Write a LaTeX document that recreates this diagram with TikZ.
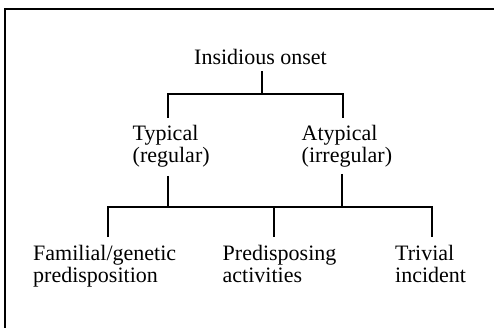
\documentclass[tikz,border=0pt]{standalone}
\usepackage{fontspec}
\setmainfont{Liberation Serif}
\begin{document}
\begin{tikzpicture}[x=1pt,y=-1pt,
  label/.style={font=\fontsize{22}{22.5}\selectfont, inner sep=0pt, align=left, anchor=base west},
  link/.style={line width=2pt},
  frame/.style={line width=2pt}]
\useasboundingbox (0,0) rectangle (494,328);
% open frame: top and left edges
\draw[frame] (494,9) -- (5,9) -- (5,328);

% labels (multi-line labels are placed by the baseline of their last line)
\node[label] (onset) at (194,65) {Insidious onset};
\node[label] (typ) at (132.5,163) {Typical\\(regular)};
\node[label] (atyp) at (301.5,163) {Atypical\\(irregular)};
\node[label] (fam) at (33,282.5) {Familial/genetic\\predisposition};
\node[label] (pre) at (222.5,282.5) {Predisposing\\activities};
\node[label] (tri) at (395,282.5) {Trivial\\incident};

% junction points on the two bars
\coordinate (j1) at (262,94);
\coordinate (j1l) at (168,94);
\coordinate (j1r) at (343,94);
\coordinate (j2l) at (168,207);
\coordinate (j2r) at (342,207);
\coordinate (k1) at (108,207);
\coordinate (k2) at (274,207);
\coordinate (k3) at (432,207);

% first level
\draw[link] (onset.south -| j1) ++(0,6) -- (j1);
\draw[link] (j1l) ++(0,24) -- (j1l) -- (j1r) -- ++(0,24);

% second level
\draw[link] (typ.south -| j2l) ++(0,8) -- (j2l);
\draw[link] (atyp.south -| j2r) ++(0,6) -- (j2r);
\draw[link] (k1) ++(0,30) -- (k1) -- (k3) -- ++(0,30);
\draw[link] (k2) -- ++(0,30);
\end{tikzpicture}
\end{document}
